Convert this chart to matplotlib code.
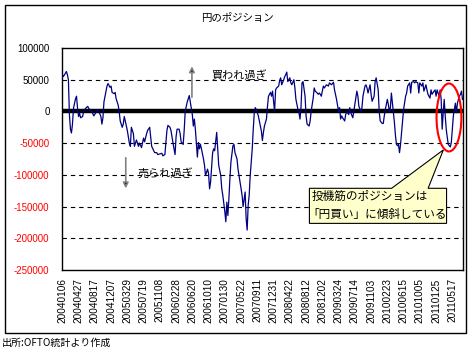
import matplotlib
matplotlib.use("Agg")
import matplotlib.pyplot as plt
import numpy as np
from matplotlib.patches import Ellipse, Polygon, Rectangle

plt.rcParams['font.family'] = ['Liberation Sans', 'Noto Sans CJK JP', 'DejaVu Sans']
JP = ['Noto Sans CJK JP', 'DejaVu Sans']

# ---- data: week index since 2004-01-06, net yen position (thousands of contracts*1000)
weeks_a = [0,1,3,4,5,6,7,8,9,10,11,13,14,15,16,17,18,20,21,23,25,27,29,31,33,35,36,38,39,40,
           41,43,44,45,47,48,49,51,52,53,55,56,57,59,60,61,62,64,65]
vals_a = [58,55,60,63,58,50,-5,-28,-34,-20,5,20,24,5,-8,-3,-10,-8,0,5,8,2,0,-7,-2,3,0,-8,-20,-10,
          15,32,40,44,38,40,30,28,30,20,10,0,-15,-25,-20,-8,-15,-30,-40]
weeks_b = [66,67,68,70,71,73,75,76,78,80,81,83,84,86,87,88,90,91,93,94,96,98,99,101,103,104,106,
           107,109,111,112,113,115,116,117,119,120,121,123,124,125,126]
vals_b = [-50,-55,-25,-35,-55,-45,-55,-50,-57,-42,-48,-35,-30,-25,-40,-55,-62,-65,-65,-68,-67,-66,
          -70,-68,-30,-22,-25,-30,-50,-68,-40,-28,-28,-35,-48,-52,-30,0,15,20,25,15]
weeks_c = [127,128,129,130,131,133,134,135,136,137,139,140,141,143,144,145,146,148,149,150,152,153,
           154,156,157,158,160,161,162,163,164,165,166,168,169,170,172,173,174,175,177,178,179,180,
           181,182,183,184,185,187,188,189,190]
vals_c = [5,-5,-23,-12,-28,-72,-49,-59,-52,-59,-75,-85,-101,-91,-98,-122,-111,-65,-59,-62,-33,-59,
          -85,-101,-122,-132,-158,-174,-143,-164,-138,-106,-80,-54,-52,-65,-75,-91,-101,-111,-132,
          -150,-138,-127,-169,-187,-148,-132,-101,-59,-28,-2,6]
weeks_d = [191,193,194,196,197,198,199,201,202,203,205,206,207,209,210,211,213,214,215,216,218,219,
           220,221,222,224,225,226,228,229,230,232,233,234,235,236,237,239,240,241,243,244,245,247,
           248,249,251,252,253,254]
vals_d = [3,-7,-15,-31,-46,-33,-23,-12,8,24,30,24,32,0,34,37,40,49,53,42,50,55,58,62,47,53,45,42,
          50,37,19,3,-2,-12,6,45,47,24,-7,-20,-23,-15,0,21,37,32,29,27,29,27]
weeks_e = [255,257,258,260,262,263,265,267,268,270,272,273,274,275,276,278,279,280,282,283,284,286,
           287,288,290,291,292,294,295,296,298,299,300,301,303,304,305,307,308,309,311,312,313,315,
           316,317,318,320,321,322]
vals_e = [24,40,37,42,40,45,42,46,34,19,0,6,-12,-7,-10,-15,-5,0,-5,6,-2,-10,0,11,32,24,8,0,6,24,
          40,42,37,29,42,27,16,24,47,53,34,0,-15,-19,-19,-7,3,19,11,0]
weeks_f = [323,324,326,327,328,329,330,331,332,333,334,335,336,338,339,340,342,343,344,346,347,348,
           350,351,352,354,355,356,358,359,360,362,363,364,366,367,368,369,371,372,373,374,375,376,
           377,378,379,380,382,383,384,385,386,387,388,389,390,391,392,393,394]
vals_f = [6,29,-2,-18,-38,-52,-54,-52,-65,-52,-33,-12,3,24,29,40,45,29,46,47,45,47,45,29,45,40,45,
          32,42,34,27,21,34,27,32,34,24,34,24,34,19,-28,-2,19,-7,-28,-41,-52,-56,-49,-28,-7,3,13,
          -2,13,19,24,27,32,19]

tick_labels = ['20040106','20040427','20040817','20041207','20050329','20050719','20051108',
               '20060228','20060620','20061010','20070130','20070522','20070911','20071231',
               '20080422','20080812','20081202','20090324','20090714','20091103','20100223',
               '20100615','20101005','20110125','20110517']
tick_step_weeks = 16
y_ticks = [100000, 50000, 0, -50000, -100000, -150000, -200000, -250000]

weeks = np.array(weeks_a + weeks_b + weeks_c + weeks_d + weeks_e + weeks_f)
values = np.array(vals_a + vals_b + vals_c + vals_d + vals_e + vals_f) * 1000

# ---- figure
fig = plt.figure(figsize=(4.73, 3.54), dpi=100)
ax = fig.add_axes([62/473, 1-270/354, 401/473, 222/354])

for y in [50000, -50000, -100000, -150000, -200000]:
    ax.axhline(y, color='black', lw=0.8, ls=(0, (4, 3.5)), zorder=1)
ax.axhline(0, color='black', lw=3.2, zorder=2)
ax.plot(weeks, values, color='#000080', lw=0.9, zorder=3)

ax.set_ylim(-250000, 100000)
ax.set_xlim(-0.3, 394.5)
ax.set_yticks(y_ticks)
ax.set_yticklabels([str(v) for v in y_ticks], fontsize=7)
for lbl, v in zip(ax.get_yticklabels(), y_ticks):
    lbl.set_color('red' if v < 0 else 'black')
ax.set_xticks([i * tick_step_weeks for i in range(len(tick_labels))])
ax.set_xticklabels(tick_labels, rotation=90, fontsize=7.2)
ax.tick_params(axis='both', length=0)
ax.tick_params(axis='y', pad=9)
ax.tick_params(axis='x', pad=6)
for s in ax.spines.values():
    s.set_linewidth(1)
    s.set_color('black')

# annotations
ax.annotate('', xy=(0.324, 0.930), xytext=(0.324, 0.766), xycoords='axes fraction',
            arrowprops=dict(arrowstyle='-|>', ec='#808080', fc='black', lw=1.2, mutation_scale=8))
ax.annotate('', xy=(0.159, 0.355), xytext=(0.159, 0.518), xycoords='axes fraction',
            arrowprops=dict(arrowstyle='-|>', ec='#808080', fc='black', lw=1.2, mutation_scale=8))
ax.text(0.374, 0.878, '買われ過ぎ', transform=ax.transAxes, va='center', ha='left',
        fontsize=8, family=JP)
ax.text(0.187, 0.437, '売られ過ぎ', transform=ax.transAxes, va='center', ha='left',
        fontsize=8, family=JP)

ax.add_patch(Ellipse((0.965, 0.687), 0.062, 0.306, transform=ax.transAxes, fill=False,
                     ec='red', lw=1.5, clip_on=False, zorder=5))

x0, x1, yb, yt = 0.617, 0.959, 0.210, 0.368
callout = [(x0, yb), (x1, yb), (x1, yt), (0.913, yt), (0.951, 0.541), (0.822, yt), (x0, yt)]
ax.add_patch(Polygon(callout, closed=True, transform=ax.transAxes, fc='#FFFFCC', ec='black',
                     lw=0.8, clip_on=False, zorder=6))
ax.text(0.623, 0.330, '投機筋のポジションは', transform=ax.transAxes, va='center', ha='left',
        fontsize=8.4, family=JP, zorder=7)
ax.text(0.613, 0.248, '「円買い」に傾斜している', transform=ax.transAxes, va='center', ha='left',
        fontsize=8.4, family=JP, zorder=7)

# frame, title, source
fig.add_artist(Rectangle((5/473, 1-333/354), 461/473, 328/354, transform=fig.transFigure,
                         fill=False, ec='black', lw=1))
fig.text(0.501, 1-18/354, '円のポジション', ha='center', va='center', fontsize=7.5, family=JP)
fig.text(2/473, 1-343/354, '出所:OFTO統計より作成', ha='left', va='center', fontsize=7.2,
         family=JP)

fig.savefig('out.png', dpi=100)
